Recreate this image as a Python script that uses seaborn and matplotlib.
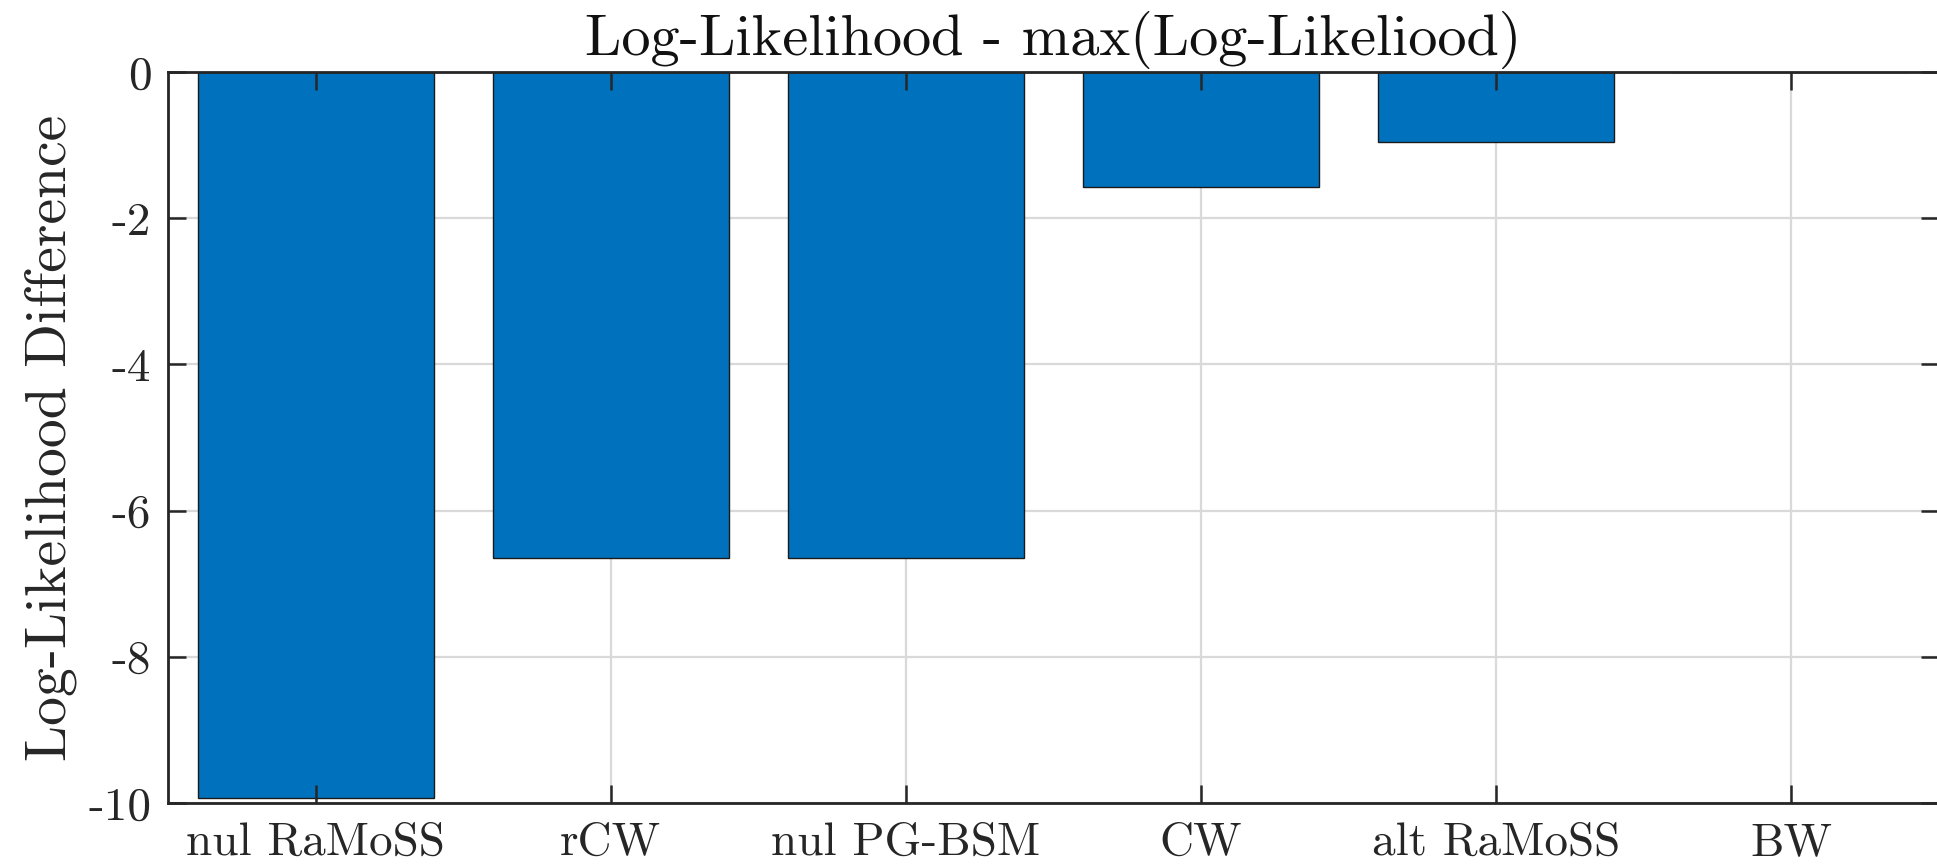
import matplotlib
matplotlib.use("Agg")
import matplotlib.pyplot as plt
import seaborn as sns
import pandas as pd

# Model comparison: log-likelihood relative to the best model
models = ["nul RaMoSS", "rCW", "nul PG-BSM", "CW", "alt RaMoSS", "BW"]
ll_diff = [-9.93, -6.65, -6.65, -1.57, -0.96, 0.0]
y_ticks = [-10, -8, -6, -4, -2, 0]
y_tick_labels = ["-10", "-8", "-6", "-4", "-2", "0"]

sns.set_style("white")
plt.rcParams["font.family"] = ["cmr10", "DejaVu Serif"]
plt.rcParams["axes.unicode_minus"] = False
plt.rcParams["axes.formatter.use_mathtext"] = True

df = pd.DataFrame({"model": models, "diff": ll_diff})

fig = plt.figure(figsize=(19.37, 8.66), dpi=100)
ax = fig.add_axes([168 / 1937, 63 / 866, 1771 / 1937, 731 / 866])

sns.barplot(data=df, x="model", y="diff", order=models, color="#0072BD",
            saturation=1, width=0.8, edgecolor="#1a1a1a", linewidth=1.0,
            errorbar=None, ax=ax, zorder=2)

ax.set_xlim(-0.5, len(models) - 0.5)
ax.set_ylim(-10, 0)
ax.set_yticks(y_ticks)
ax.set_yticklabels(y_tick_labels)
ax.set_xticks(range(len(models)))
ax.set_xticklabels(models)

# grid behind the bars, tick marks in front of them
ax.grid(False)
ax.set_axisbelow(False)
for yv in y_ticks:
    ax.axhline(yv, color="#d9d9d9", linewidth=1.6, zorder=0.5)
for xv in range(len(models)):
    ax.axvline(xv, color="#d9d9d9", linewidth=1.6, zorder=0.5)

for side in ["left", "right", "top", "bottom"]:
    ax.spines[side].set_visible(True)
    ax.spines[side].set_linewidth(2.0)
    ax.spines[side].set_color("#262626")
    ax.spines[side].set_zorder(5)

ax.tick_params(axis="both", which="major", direction="in", length=13,
               width=1.8, color="#262626", labelsize=34, labelcolor="#262626",
               top=True, right=True, bottom=True, left=True)
ax.tick_params(axis="y", pad=12)
ax.tick_params(axis="x", pad=14)

ax.set_xlabel("")
ax.set_ylabel("Log-Likelihood Difference", fontsize=41.5, color="#262626", labelpad=8)
ax.set_title("Log-Likelihood - max(Log-Likeliood)", fontsize=42, color="#111111", pad=12)

fig.savefig("out.png", dpi=100, facecolor="white")
